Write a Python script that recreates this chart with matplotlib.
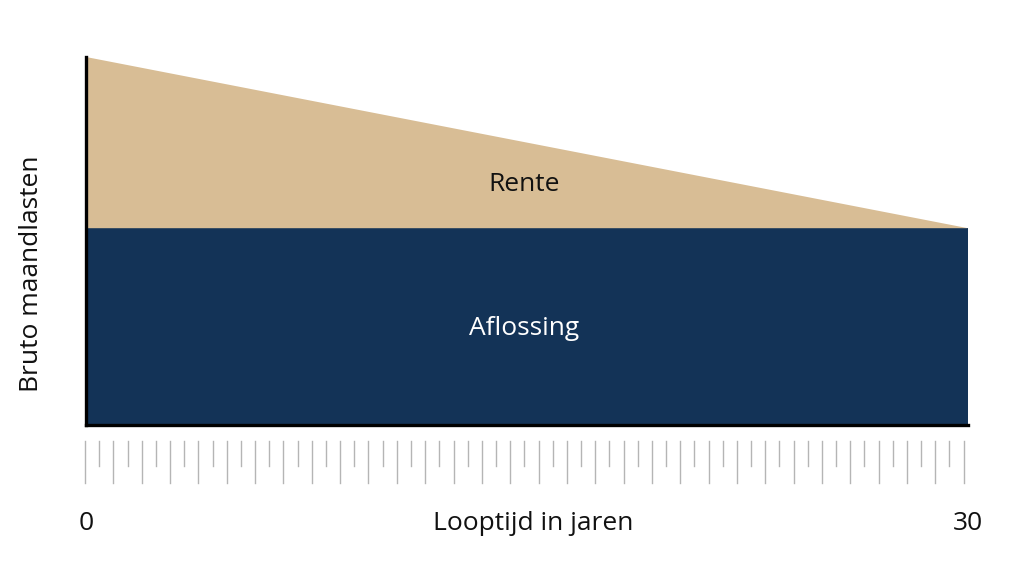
import numpy as np
import matplotlib.pyplot as plt
import matplotlib.transforms as mtransforms

plt.rcParams['font.family'] = ['Open Sans', 'DejaVu Sans']

# data
years = [0, 30]
aflossing = [1.0, 1.0]
rente = [0.87, 0.0]
labels = ['Aflossing', 'Rente']
colors = ['#133357', '#D8BD95']
xtick_labels = ['0', '30']

fig = plt.figure(figsize=(10.24, 5.68), dpi=100)
ax = fig.add_axes([86/1024, 1 - 425/568, (968 - 86)/1024, (425 - 57)/568])

ax.stackplot(years, aflossing, rente, colors=colors, linewidth=0)
ax.set_xlim(years[0], years[-1])
ax.set_ylim(0, aflossing[0] + rente[0])

for s in ['top', 'right']:
    ax.spines[s].set_visible(False)
for s in ['left', 'bottom']:
    ax.spines[s].set_linewidth(2.4)
    ax.spines[s].set_color('black')
ax.set_xticks([])
ax.set_yticks([])

# labels inside the areas
ax.text(14.9, aflossing[0] + rente[0] * 0.255, 'Rente', ha='center', va='center',
        fontsize=19, color='#111111')
ax.text(14.9, aflossing[0] * 0.49, 'Aflossing', ha='center', va='center',
        fontsize=19, color='white')

# ruler-style tick marks below the axis
trans = mtransforms.blended_transform_factory(ax.transData, ax.transAxes)
n_ticks = 63
ruler = np.linspace(-0.03, 29.85, n_ticks)
for i, xv in enumerate(ruler):
    bottom = -0.158 if i % 2 == 0 else -0.111
    ax.plot([xv, xv], [-0.044, bottom], transform=trans, color='#b5b5b5',
            lw=1.0, clip_on=False)

# axis texts
for xv, lab in zip(years, xtick_labels):
    ax.text(xv, -0.268, lab, transform=trans, ha='center', va='center',
            fontsize=19, color='#111111', clip_on=False)
ax.text(15.2, -0.268, 'Looptijd in jaren', transform=trans, ha='center',
        va='center', fontsize=19, color='#111111', clip_on=False)
fig.text(32/1024, 1 - 274/568, 'Bruto maandlasten', rotation=90,
         ha='center', va='center', fontsize=19, color='#111111')

fig.savefig('out.png', dpi=100)
